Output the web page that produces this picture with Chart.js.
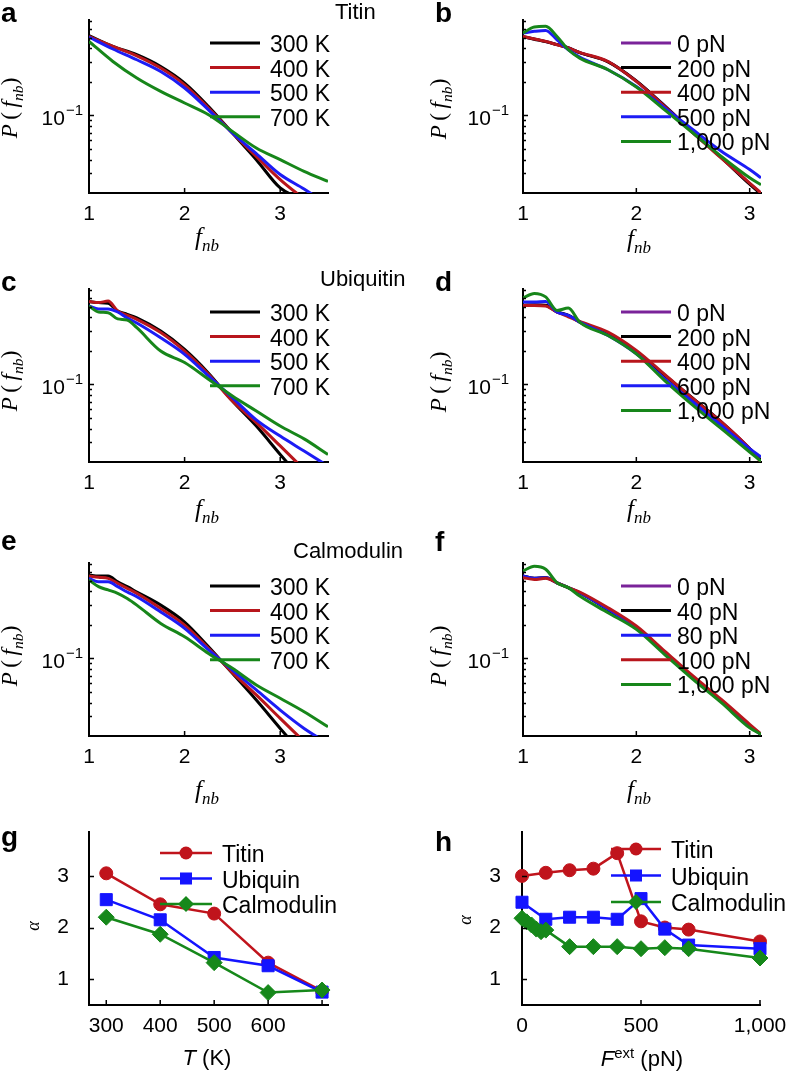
<!DOCTYPE html>
<html>
<head>
<meta charset="utf-8">
<script src="https://cdn.jsdelivr.net/npm/chart.js@4.4.1/dist/chart.umd.min.js"></script>
<style>
  body { margin: 0; background: #fff; }
  #fig { position: relative; width: 788px; height: 1073px; overflow: hidden;
         font-family: "Liberation Sans", Arial, Helvetica, sans-serif; color: #000; }
  canvas { position: absolute; }
  .t { position: absolute; white-space: nowrap; line-height: 1; }
  .lt { font-weight: bold; font-size: 28px; }
  .pt { font-size: 22px; }
  .ml { font-family: "Liberation Serif", "DejaVu Serif", serif; font-size: 23px; }
  .it { font-style: italic; }
  .s { font-size: 0.68em; vertical-align: -0.35em; }
  .sup { font-size: 0.68em; vertical-align: 0.55em; }
  .c { transform: translate(-50%, -50%); }
  .r { transform: translate(-50%, -50%) rotate(-90deg); }
</style>
</head>
<body>
<div id="fig">
  <canvas id="cA" width="394" height="240" style="left:0;top:0"></canvas>
  <canvas id="cB" width="394" height="240" style="left:394px;top:0"></canvas>
  <canvas id="cC" width="394" height="240" style="left:0;top:269px"></canvas>
  <canvas id="cD" width="394" height="240" style="left:394px;top:269px"></canvas>
  <canvas id="cE" width="394" height="240" style="left:0;top:543px"></canvas>
  <canvas id="cF" width="394" height="240" style="left:394px;top:543px"></canvas>
  <canvas id="cG" width="394" height="273" style="left:0;top:800px"></canvas>
  <canvas id="cH" width="394" height="273" style="left:394px;top:800px"></canvas>

  <div class="t lt" style="left:1px;top:-1px">a</div>
  <div class="t lt" style="left:435px;top:-1px">b</div>
  <div class="t lt" style="left:1px;top:268px">c</div>
  <div class="t lt" style="left:435px;top:268px">d</div>
  <div class="t lt" style="left:1px;top:527px">e</div>
  <div class="t lt" style="left:435px;top:528px">f</div>
  <div class="t lt" style="left:1px;top:823px">g</div>
  <div class="t lt" style="left:435px;top:828px">h</div>

  <div class="t pt" style="left:335px;top:1px">Titin</div>
  <div class="t pt" style="left:320px;top:268px">Ubiquitin</div>
  <div class="t pt" style="left:293px;top:540px">Calmodulin</div>

  <div class="t ml r" style="left:12px;top:108px"><span class="it">P</span>&#8201;(&#8201;<span class="it">f</span><span class="s it">nb</span>)</div>
  <div class="t ml r" style="left:441px;top:109px"><span class="it">P</span>&#8201;(&#8201;<span class="it">f</span><span class="s it">nb</span>)</div>
  <div class="t ml r" style="left:12px;top:381px"><span class="it">P</span>&#8201;(&#8201;<span class="it">f</span><span class="s it">nb</span>)</div>
  <div class="t ml r" style="left:441px;top:382px"><span class="it">P</span>&#8201;(&#8201;<span class="it">f</span><span class="s it">nb</span>)</div>
  <div class="t ml r" style="left:12px;top:656px"><span class="it">P</span>&#8201;(&#8201;<span class="it">f</span><span class="s it">nb</span>)</div>
  <div class="t ml r" style="left:441px;top:656px"><span class="it">P</span>&#8201;(&#8201;<span class="it">f</span><span class="s it">nb</span>)</div>

  <div class="t ml c" style="left:207px;top:239px;font-size:25px"><span class="it">f</span><span class="s it">nb</span></div>
  <div class="t ml c" style="left:639px;top:241px;font-size:25px"><span class="it">f</span><span class="s it">nb</span></div>
  <div class="t ml c" style="left:207px;top:511px;font-size:25px"><span class="it">f</span><span class="s it">nb</span></div>
  <div class="t ml c" style="left:639px;top:511px;font-size:25px"><span class="it">f</span><span class="s it">nb</span></div>
  <div class="t ml c" style="left:207px;top:792px;font-size:25px"><span class="it">f</span><span class="s it">nb</span></div>
  <div class="t ml c" style="left:639px;top:792px;font-size:25px"><span class="it">f</span><span class="s it">nb</span></div>

  <div class="t ml r it" style="left:33px;top:926px;font-size:18px">&alpha;</div>
  <div class="t ml r it" style="left:465px;top:920px;font-size:18px">&alpha;</div>
  <div class="t c" style="left:207px;top:1058px;font-size:22px"><span class="it">T</span> (K)</div>
  <div class="t c" style="left:642px;top:1058px;font-size:22px"><span class="it">F</span><span class="sup">ext</span> (pN)</div>
</div>

<script>
Chart.defaults.font.family = '"Liberation Sans", Arial, Helvetica, sans-serif';
Chart.defaults.font.size = 21;
Chart.defaults.color = '#000';

const PURPLE = '#7a2399', BLACK = '#000000', RED = '#b8161c', BLUE = '#1c1cf5', GREEN = '#17861a';

// tick positions
const P_TICKS = [0.03, 0.04, 0.05, 0.06, 0.07, 0.08, 0.09, 0.1, 0.2, 0.3, 0.4, 0.5, 0.6, 0.7];
const FNB_TICKS = [1, 2, 3];
const T_TICKS = [300, 400, 500, 600, 700];
const F_TICKS = [0, 500, 1000];
const ALPHA_TICKS = [1, 2, 3];

// legends
const tempNames = ['300 K', '400 K', '500 K', '700 K'];
const tempColors = [BLACK, RED, BLUE, GREEN];
const forceNamesB = ['0 pN', '200 pN', '400 pN', '500 pN', '1,000 pN'];
const forceNamesD = ['0 pN', '200 pN', '400 pN', '600 pN', '1,000 pN'];
const forceNamesF = ['0 pN', '40 pN', '80 pN', '100 pN', '1,000 pN'];
const forceColorsBD = [PURPLE, BLACK, RED, BLUE, GREEN];
const forceColorsF = [PURPLE, BLACK, BLUE, RED, GREEN];

// a: titin, temperature
const aX = [1, 1.25, 1.5, 1.75, 2, 2.25, 2.5, 2.75, 3, 3.25, 3.5];
const a300 = [0.520, 0.417, 0.351, 0.275, 0.195, 0.120, 0.0693, 0.0399, 0.0222, 0.0173, null];
const a400 = [0.512, 0.417, 0.343, 0.266, 0.188, 0.1163, 0.0693, 0.0426, 0.0264, 0.0176, null];
const a500 = [0.506, 0.395, 0.316, 0.248, 0.176, 0.112, 0.0693, 0.0452, 0.0293, 0.0217, 0.0156];
const a700 = [0.462, 0.305, 0.2164, 0.164, 0.129, 0.1012, 0.0717, 0.0508, 0.0399, 0.0313, 0.0254];

// b: titin, force
const bX = [1, 1.1, 1.2, 1.3, 1.4, 1.5, 1.75, 2, 2.25, 2.5, 2.75, 3, 3.1];
const b0 = [0.508, 0.485, 0.461, 0.433, 0.405, 0.367, 0.304, 0.203, 0.122, 0.0705, 0.0418, 0.0243, 0.0198];
const b200 = [0.510, 0.484, 0.460, 0.432, 0.404, 0.366, 0.303, 0.204, 0.121, 0.0700, 0.0416, 0.0240, 0.0196];
const b400 = [0.512, 0.486, 0.462, 0.431, 0.403, 0.368, 0.305, 0.2017, 0.120, 0.0693, 0.0412, 0.0246, 0.0200];
const b500 = [0.550, 0.569, 0.580, 0.478, 0.389, 0.334, 0.257, 0.182, 0.1163, 0.0742, 0.0474, 0.0325, 0.0274];
const b1000 = [0.550, 0.624, 0.632, 0.512, 0.389, 0.327, 0.257, 0.1796, 0.112, 0.0693, 0.0426, 0.0274, 0.0237];

// c: ubiquitin, temperature
const cX = [1, 1.1, 1.2, 1.3, 1.4, 1.5, 1.75, 2, 2.25, 2.5, 2.75, 3, 3.25, 3.5];
const c300 = [0.555, 0.543, 0.535, 0.456, 0.426, 0.395, 0.301, 0.206, 0.126, 0.0707, 0.0421, 0.0234, 0.0132, null];
const c400 = [0.555, 0.543, 0.561, 0.456, 0.418, 0.384, 0.292, 0.199, 0.123, 0.0707, 0.0452, 0.0279, 0.0171, null];
const c500 = [0.506, 0.477, 0.477, 0.447, 0.395, 0.356, 0.262, 0.186, 0.1188, 0.0758, 0.0479, 0.0342, 0.0251, 0.0184];
const c700 = [0.506, 0.447, 0.441, 0.388, 0.378, 0.323, 0.199, 0.157, 0.111, 0.0784, 0.0575, 0.0421, 0.0323, 0.0234];

// d: ubiquitin, force
const d0 = [0.512, 0.520, 0.512, 0.447, 0.417, 0.363, 0.285, 0.195, 0.120, 0.0742, 0.0458, 0.0264, 0.0207];
const d200 = [0.514, 0.518, 0.514, 0.449, 0.417, 0.364, 0.286, 0.197, 0.121, 0.0745, 0.0458, 0.0264, 0.0207];
const d400 = [0.512, 0.512, 0.506, 0.447, 0.405, 0.368, 0.295, 0.2017, 0.1225, 0.0742, 0.0458, 0.0264, 0.0200];
const d600 = [0.550, 0.550, 0.557, 0.447, 0.417, 0.363, 0.275, 0.188, 0.112, 0.0693, 0.0426, 0.0264, 0.0222];
const d1000 = [0.598, 0.657, 0.611, 0.462, 0.485, 0.363, 0.275, 0.188, 0.108, 0.0646, 0.0399, 0.0246, 0.0203];

// e: calmodulin, temperature
const e300 = [0.561, 0.550, 0.550, 0.488, 0.441, 0.395, 0.301, 0.212, 0.127, 0.0733, 0.0421, 0.0234, 0.0132, null];
const e400 = [0.550, 0.535, 0.524, 0.4725, 0.426, 0.384, 0.281, 0.199, 0.123, 0.0744, 0.0468, 0.0288, 0.0178, null];
const e500 = [0.524, 0.488, 0.488, 0.441, 0.395, 0.358, 0.261, 0.186, 0.1188, 0.0784, 0.0519, 0.0342, 0.0234, 0.0171];
const e700 = [0.506, 0.441, 0.412, 0.384, 0.345, 0.301, 0.206, 0.156, 0.1107, 0.0812, 0.0575, 0.0437, 0.0331, 0.0242];

// f: calmodulin, force
const f0 = [0.550, 0.524, 0.532, 0.478, 0.432, 0.389, 0.275, 0.188, 0.112, 0.0665, 0.0412, 0.0246, 0.0207];
const f40 = [0.550, 0.524, 0.531, 0.477, 0.431, 0.389, 0.274, 0.187, 0.112, 0.0664, 0.0411, 0.0245, 0.0206];
const f80 = [0.549, 0.523, 0.530, 0.478, 0.432, 0.390, 0.276, 0.188, 0.113, 0.0666, 0.0413, 0.0247, 0.0208];
const f100 = [0.532, 0.512, 0.524, 0.478, 0.432, 0.395, 0.285, 0.195, 0.1163, 0.0693, 0.0426, 0.0255, 0.0208];
const f1000 = [0.611, 0.672, 0.632, 0.478, 0.432, 0.363, 0.257, 0.182, 0.108, 0.0646, 0.0399, 0.0237, 0.0207];

// g: alpha vs temperature
const gT = [300, 400, 500, 600, 700];
const gTitin = [3.05, 2.45, 2.27, 1.32, 0.77];
const gUbiquin = [2.54, 2.15, 1.42, 1.26, 0.75];
const gCalmodulin = [2.2, 1.87, 1.32, 0.74, 0.79];

// h: alpha vs force
const hF = [0, 100, 200, 300, 400, 500, 600, 700, 1000];
const hTitin = [3.0, 3.06, 3.11, 3.14, 3.44, 2.12, 2.0, 1.96, 1.73];
const hUbiquin = [2.49, 2.16, 2.2, 2.2, 2.16, 2.56, 1.97, 1.66, 1.59];
const hCalF = [0, 20, 40, 60, 80, 100, 200, 300, 400, 500, 600, 700, 1000];
const hCalmodulin = [2.18, 2.11, 2.05, 1.97, 1.92, 1.95, 1.63, 1.63, 1.63, 1.59, 1.61, 1.59, 1.41];

function drawMarker(ctx, style, r, x, y, color) {
  ctx.fillStyle = color;
  ctx.beginPath();
  if (style === 'circle') {
    ctx.arc(x, y, r, 0, Math.PI * 2);
  } else if (style === 'rect') {
    const s = r * Math.SQRT1_2;
    ctx.rect(x - s, y - s, 2 * s, 2 * s);
  } else {
    ctx.moveTo(x, y - r); ctx.lineTo(x + r, y); ctx.lineTo(x, y + r); ctx.lineTo(x - r, y);
    ctx.closePath();
  }
  ctx.fill();
}

// inward tick marks, plus the 10^-1 label on log axes
const axisTicks = {
  id: 'axisTicks',
  afterDatasetsDraw(chart, args, o) {
    const ctx = chart.ctx, area = chart.chartArea;
    const sx = chart.scales.x, sy = chart.scales.y;
    const isLog = sy.type === 'logarithmic';
    ctx.save();
    ctx.strokeStyle = '#000';
    ctx.lineWidth = 1.5;
    ctx.beginPath();
    sx.ticks.forEach(t => {
      const px = sx.getPixelForValue(t.value);
      ctx.moveTo(px, area.bottom); ctx.lineTo(px, area.bottom - 5);
    });
    sy.ticks.forEach(t => {
      const py = Math.round(sy.getPixelForValue(t.value)) + 0.5;
      const len = (isLog && t.value !== 0.1) ? 3 : 5;
      ctx.moveTo(area.left, py); ctx.lineTo(area.left + len, py);
    });
    ctx.stroke();
    if (isLog) {
      const py = sy.getPixelForValue(0.1);
      const gap = o.labelGap || 6;
      ctx.fillStyle = '#000';
      ctx.textAlign = 'right';
      ctx.textBaseline = 'alphabetic';
      ctx.font = '15px "Liberation Sans", Arial, sans-serif';
      const sup = '\u22121';
      const sw = ctx.measureText(sup).width;
      ctx.fillText(sup, area.left - gap, py);
      ctx.font = '21px "Liberation Sans", Arial, sans-serif';
      ctx.fillText('10', area.left - gap - sw - 1, py + 10);
    }
    ctx.restore();
  }
};

// legend drawn inside the plot, line sample then label
const sideLegend = {
  id: 'sideLegend',
  afterDatasetsDraw(chart, args, o) {
    if (!o || o.x === undefined) return;
    const ctx = chart.ctx;
    ctx.save();
    ctx.font = '23px "Liberation Sans", Arial, sans-serif';
    ctx.textAlign = 'left';
    ctx.textBaseline = 'alphabetic';
    chart.data.datasets.forEach((ds, i) => {
      const y = o.y + i * o.dy;
      ctx.strokeStyle = ds.borderColor;
      ctx.lineWidth = ds.borderWidth;
      ctx.beginPath(); ctx.moveTo(o.x, y); ctx.lineTo(o.x + o.w, y); ctx.stroke();
      if (ds.pointRadius) drawMarker(ctx, ds.pointStyle, ds.pointRadius, o.x + o.w / 2, y, ds.borderColor);
      ctx.fillStyle = '#000';
      ctx.fillText(ds.label, o.x + o.w + o.gap, y + 9);
    });
    ctx.restore();
  }
};

Chart.register(axisTicks, sideLegend);

function curvePanel(id, xs, xMax, names, colors, series, right) {
  const datasets = series.map((vals, i) => ({
    label: names[i],
    data: xs.map((x, j) => ({ x: x, y: vals[j] })).filter(p => p.y !== null),
    borderColor: colors[i],
    backgroundColor: colors[i],
    borderWidth: 3,
    pointRadius: 0,
    cubicInterpolationMode: 'monotone',
    order: series.length - i
  }));
  new Chart(document.getElementById(id), {
    type: 'line',
    data: { datasets: datasets },
    options: {
      responsive: false,
      animation: false,
      events: [],
      layout: { padding: { top: 20, right: right ? 27 : 66, left: 0, bottom: 0 } },
      plugins: {
        legend: { display: false },
        tooltip: { enabled: false },
        sideLegend: { x: right ? 227 : 210, w: 50, gap: right ? 6 : 10, y: 43, dy: 24.6 },
        axisTicks: { labelGap: right ? 14 : 6 }
      },
      scales: {
        x: {
          type: 'linear', min: 1, max: xMax,
          grid: { display: false },
          border: { color: '#000', width: 2 },
          afterBuildTicks: s => { s.ticks = FNB_TICKS.map(v => ({ value: v })); },
          afterFit: s => { s.height = 47; },
          ticks: { padding: 1, color: '#000', callback: v => String(v) }
        },
        y: {
          type: 'logarithmic', min: 0.02, max: 0.72,
          grid: { display: false },
          border: { color: '#000', width: 2 },
          afterBuildTicks: s => { s.ticks = P_TICKS.map(v => ({ value: v })); },
          afterFit: s => { s.width = right ? 129 : 89; },
          ticks: { display: false }
        }
      }
    }
  });
}

curvePanel('cA', aX, 3.5, tempNames, tempColors, [a300, a400, a500, a700], false);
curvePanel('cB', bX, 3.1, forceNamesB, forceColorsBD, [b0, b200, b400, b500, b1000], true);
curvePanel('cC', cX, 3.5, tempNames, tempColors, [c300, c400, c500, c700], false);
curvePanel('cD', bX, 3.1, forceNamesD, forceColorsBD, [d0, d200, d400, d600, d1000], true);
curvePanel('cE', cX, 3.5, tempNames, tempColors, [e300, e400, e500, e700], false);
curvePanel('cF', bX, 3.1, forceNamesF, forceColorsF, [f0, f40, f80, f100, f1000], true);

const proteinNames = ['Titin', 'Ubiquin', 'Calmodulin'];
const proteinColors = ['#c0141c', '#1414ff', '#16881a'];
const proteinMarks = ['circle', 'rect', 'rectRot'];
const proteinSizes = [6.5, 8.5, 8];

function alphaPanel(id, xsList, series, xMin, xMax, xTicks, tickLabel, right) {
  const datasets = series.map((vals, i) => ({
    label: proteinNames[i],
    data: xsList[i].map((x, j) => ({ x: x, y: vals[j] })),
    borderColor: proteinColors[i],
    backgroundColor: proteinColors[i],
    pointBackgroundColor: proteinColors[i],
    pointBorderColor: proteinColors[i],
    pointStyle: proteinMarks[i],
    pointRadius: proteinSizes[i],
    pointBorderWidth: 1,
    borderWidth: 2.5,
    tension: 0,
    clip: false,
    order: series.length - i
  }));
  new Chart(document.getElementById(id), {
    type: 'line',
    data: { datasets: datasets },
    options: {
      responsive: false,
      animation: false,
      events: [],
      layout: { padding: { top: 32, right: right ? 28 : 66, left: 0, bottom: 0 } },
      plugins: {
        legend: { display: false },
        tooltip: { enabled: false },
        sideLegend: right ? { x: 217, w: 50, gap: 10, y: 49, dy: 26.5 }
                          : { x: 160, w: 52, gap: 10, y: 53, dy: 25.5 }
      },
      scales: {
        x: {
          type: 'linear', min: xMin, max: xMax,
          grid: { display: false },
          border: { color: '#000', width: 2 },
          afterBuildTicks: s => { s.ticks = xTicks.map(v => ({ value: v })); },
          afterFit: s => { s.height = 68; },
          ticks: { padding: 1, color: '#000', callback: tickLabel }
        },
        y: {
          type: 'linear', min: 0.5, max: 3.85,
          grid: { display: false },
          border: { color: '#000', width: 2 },
          afterBuildTicks: s => { s.ticks = ALPHA_TICKS.map(v => ({ value: v })); },
          afterFit: s => { s.width = right ? 128 : 89; },
          ticks: { padding: right ? 13 : 12, color: '#000', callback: v => String(v) }
        }
      }
    }
  });
}

alphaPanel('cG', [gT, gT, gT], [gTitin, gUbiquin, gCalmodulin], 268, 711, T_TICKS,
  v => (v === 700 ? '' : String(v)), false);
alphaPanel('cH', [hF, hF, hCalF], [hTitin, hUbiquin, hCalmodulin], 0, 1000, F_TICKS,
  v => (v === 1000 ? '1,000' : String(v)), true);
</script>
</body>
</html>
